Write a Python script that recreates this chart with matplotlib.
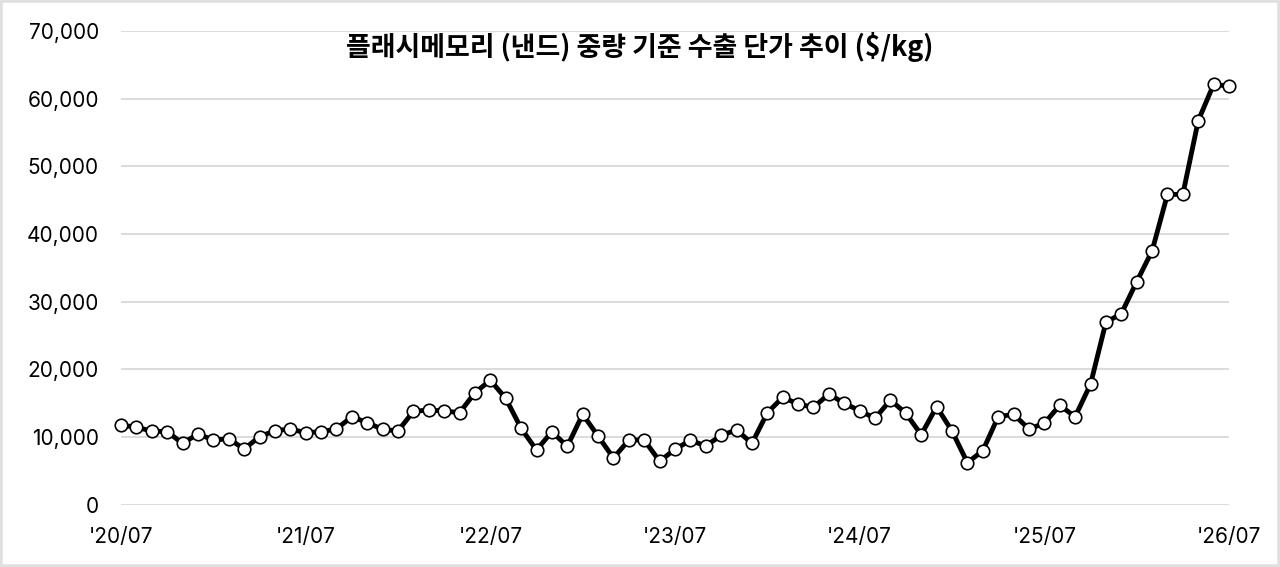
import numpy as np
import matplotlib
matplotlib.use("Agg")
import matplotlib.pyplot as plt
from matplotlib.patches import Rectangle

# -----------------------------
# DATA  ($/kg, monthly '20/07 ~ '26/07)
# -----------------------------

months = [f"'{20 + (6 + i) // 12:02d}/{(6 + i) % 12 + 1:02d}" for i in range(73)]

prices = [
    11790, 11450, 10900, 10800, 9080, 10460, 9570, 9760, 8240, 10060,
    10950, 11200, 10650, 10800, 11200, 13010, 12130, 11150, 10900, 13810,
    14000, 13860, 13600, 16560, 18400, 15730, 11300, 8090, 10800, 8640,
    13370, 10160, 6910, 9570, 9570, 6430, 8200, 9530, 8690, 10270,
    11050, 9080, 13600, 15880, 14890, 14400, 16370, 14990, 13900, 12780,
    15480, 13520, 10350, 14490, 10900, 6220, 7990, 13010, 13370, 11200,
    12040, 14700, 13010, 17800, 26960, 28230, 32950, 37490, 45860, 45860,
    56740, 62110, 61860,
]

title = "플래시메모리 (낸드) 중량 기준 수출 단가 추이 ($/kg)"
y_ticks = [0, 10000, 20000, 30000, 40000, 50000, 60000, 70000]

# -----------------------------
# FIGURE
# -----------------------------

plt.rcParams['font.family'] = ['Inter', 'Noto Sans CJK KR', 'DejaVu Sans']

fig = plt.figure(figsize=(12.8, 5.67), dpi=100)
ax = fig.add_axes([121 / 1280, 1 - 504.8 / 567, (1229 - 121) / 1280, (504.8 - 31) / 567])

x = np.arange(len(prices))

ax.plot(
    x, prices,
    color='black',
    linewidth=3.5,
    marker='o',
    markersize=9,
    markerfacecolor='white',
    markeredgecolor='black',
    markeredgewidth=1.2,
    clip_on=False,
    zorder=3
)

ax.set_xlim(0, len(prices) - 1)
ax.set_ylim(0, 70000)

ax.set_yticks(y_ticks)
ax.set_yticklabels([f"{v:,}" for v in y_ticks])

tick_pos = list(range(0, len(prices), 12))
ax.set_xticks(tick_pos)
ax.set_xticklabels([months[i] for i in tick_pos])

ax.tick_params(axis='both', length=0, labelsize=15, colors='black')
ax.tick_params(axis='y', pad=16)
ax.tick_params(axis='x', pad=16)

ax.grid(axis='y', color='#d9d9d9', linewidth=1.3)
ax.set_axisbelow(True)

for side in ['top', 'right', 'left', 'bottom']:
    ax.spines[side].set_visible(False)

fig.text(
    0.5, 1 - 47 / 567, title,
    ha='center', va='center',
    fontsize=19.4, fontweight='bold',
    family=['Noto Sans CJK KR', 'DejaVu Sans']
)

# light frame around the image
fig.patches.append(Rectangle(
    (0, 0), 1, 1,
    transform=fig.transFigure,
    fill=False, edgecolor='#e0e0e0', linewidth=4
))

fig.savefig("out.png", dpi=100)
